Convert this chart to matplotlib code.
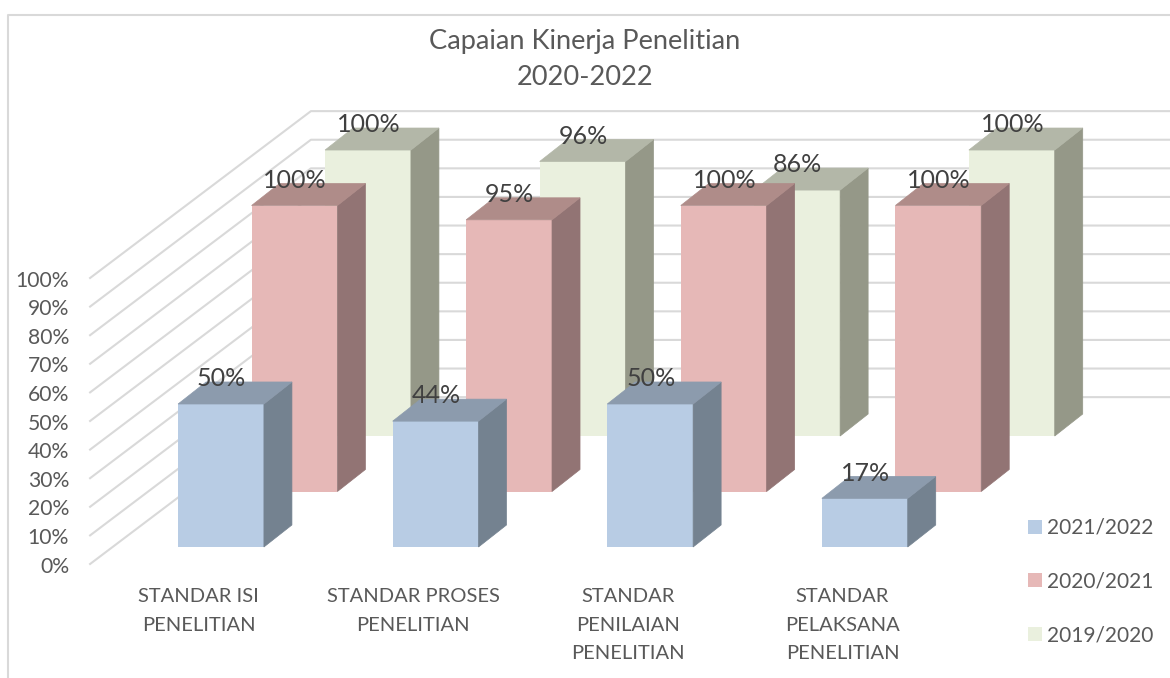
import matplotlib
matplotlib.use('Agg')
import matplotlib.pyplot as plt

categories = ['STANDAR ISI\nPENELITIAN', 'STANDAR PROSES\nPENELITIAN',
              'STANDAR\nPENILAIAN\nPENELITIAN', 'STANDAR\nPELAKSANA\nPENELITIAN']
years = ['2021/2022', '2020/2021', '2019/2020']
values_2122 = [50, 44, 50, 17]
values_2021 = [100, 95, 100, 100]
values_1920 = [100, 96, 86, 100]
y_ticks = [0, 10, 20, 30, 40, 50, 60, 70, 80, 90, 100]

face_colors = ['#B8CCE4', '#E6B8B7', '#EAF0DE']
side_colors = ['#748290', '#927474', '#959888']
top_colors = ['#8C9BAD', '#AF8C89', '#B3B7A8']
grid_color = '#D9D9D9'
text_color = '#595959'
label_color = '#404040'

# pixels per data unit, the fake 3D offsets below are all in data units
px_x = 214.6
px_y = 2.86
width = 0.4
series_dx = 0.3425
series_dy = 19.4
depth_dx = 0.1305
depth_dy = 7.7

plt.rcParams['font.family'] = ['Lato', 'DejaVu Sans']

fig = plt.figure(figsize=(11.7, 6.78), dpi=100)
ax = fig.add_axes([0, 0, 1, 1])
ax.set_xlim(-221 / px_x, (1170 - 221) / px_x)
ax.set_ylim((547 - 678) / px_y, 547 / px_y)
ax.axis('off')

# chart frame
ax.plot([8 / 1170, 8 / 1170, 1], [0, 1 - 15 / 678, 1 - 15 / 678],
        color=grid_color, lw=1.5, transform=ax.transAxes, clip_on=False)

# walls
wall_x0, wall_y0 = -0.61, -5.94
wall_x1, wall_y1 = 0.419, 52.4
x_right = ax.get_xlim()[1]
for t in y_ticks:
    ax.plot([wall_x0, wall_x1, x_right], [t + wall_y0, t + wall_y1, t + wall_y1],
            color=grid_color, lw=1.5, zorder=1)
    ax.text(wall_x0 - 0.098, t + wall_y0 - 0.9, '%d%%' % t, ha='right', va='center',
            fontsize=15.2, color=text_color)

series = [values_2122, values_2021, values_1920]
handles = []
z = 2
for s in [2, 1, 0]:
    dx = s * series_dx
    dy = s * series_dy
    for i, v in enumerate(series[s]):
        x0 = i + dx - width / 2
        x1 = i + dx + width / 2
        bars = ax.bar(i + dx, v, width=width, bottom=dy, color=face_colors[s],
                      zorder=z)
        # right side and top of the box
        ax.fill([x1, x1 + depth_dx, x1 + depth_dx, x1],
                [dy, dy + depth_dy, dy + v + depth_dy, dy + v],
                color=side_colors[s], lw=0.5, zorder=z)
        ax.fill([x0, x1, x1 + depth_dx, x0 + depth_dx],
                [dy + v, dy + v, dy + v + depth_dy, dy + v + depth_dy],
                color=top_colors[s], lw=0.5, zorder=z)
        z += 1
    handles.insert(0, bars[0])

# data labels go on top of everything
for s in [2, 1, 0]:
    for i, v in enumerate(series[s]):
        ax.text(i + s * series_dx + 0.003, v + s * series_dy + 8.8, '%d%%' % v,
                ha='center', va='center', fontsize=18, color=label_color,
                zorder=50)

for i, c in enumerate(categories):
    ax.text(i - 0.104, -14.4, c, ha='center', va='top', fontsize=14.5,
            color=text_color, linespacing=1.82)

ax.text(585 / px_x - 221 / px_x, (547 - 90) / px_y,
        'Capaian Kinerja Penelitian\n2020-2022', ha='center', va='bottom',
        fontsize=19.6, color=text_color, linespacing=1.55)

leg = ax.legend(handles, years, loc='upper left',
                bbox_to_anchor=(1028 / 1170, 1 - 518 / 678), frameon=False,
                fontsize=15, handlelength=0.67, handleheight=0.67,
                handletextpad=0.22, labelspacing=1.61, borderpad=0, borderaxespad=0)
for t in leg.get_texts():
    t.set_color(text_color)

plt.savefig('out.png', dpi=100)
